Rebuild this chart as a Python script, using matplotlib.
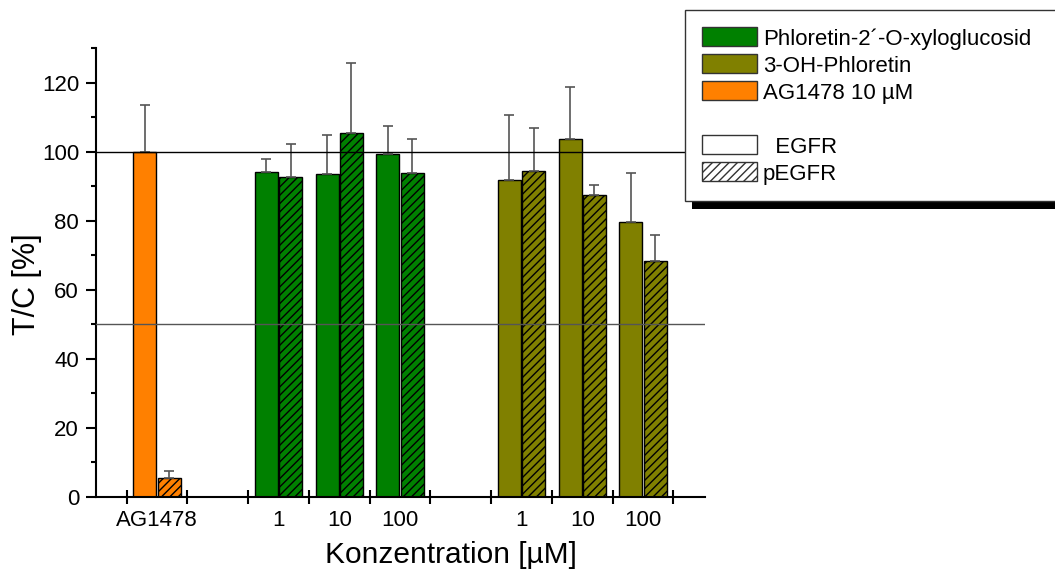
import numpy as np
import matplotlib
matplotlib.use("Agg")
import matplotlib.pyplot as plt
from matplotlib.patches import Rectangle
from matplotlib.ticker import MultipleLocator, FixedLocator

#------------------------------------------------------------------------------#
# Data                                                      #
#------------------------------------------------------------------------------#
categories = ['AG1478', '1', '10', '100', '1', '10', '100']
egfr       = [100.0, 94.2, 93.5, 99.4, 91.9, 103.7, 79.6]
egfr_err   = [13.6, 3.6, 11.4, 8.0, 18.6, 14.9, 14.2]
pegfr      = [5.5, 92.6, 105.3, 93.9, 94.4, 87.3, 68.3]
pegfr_err  = [2.0, 9.5, 20.4, 9.7, 12.4, 3.0, 7.7]

legend_labels = ['Phloretin-2\u00b4-O-xyloglucosid', '3-OH-Phloretin',
                 'AG1478 10 \u00b5M', '  EGFR', 'pEGFR']

#------------------------------------------------------------------------------#
# Style                                                                        #
#------------------------------------------------------------------------------#
GREEN = '#008000'
OLIVE = '#808000'
ORANGE = '#ff8000'
bar_colors = [ORANGE, GREEN, GREEN, GREEN, OLIVE, OLIVE, OLIVE]
positions = np.array([0.5, 2.5, 3.5, 4.5, 6.5, 7.5, 8.5])
width = 0.38
offset = 0.2

plt.rcParams['font.family'] = ['Liberation Sans', 'DejaVu Sans']
plt.rcParams['hatch.linewidth'] = 1.0

W, H = 1055, 570
fig = plt.figure(figsize=(W / 100, H / 100), dpi=100)
ax = fig.add_axes([96 / W, (H - 497) / H, (705 - 96) / W, (497 - 48) / H])

#------------------------------------------------------------------------------#
# Bars and error bars                                                          #
#------------------------------------------------------------------------------#
ax.bar(positions - offset, egfr, width, color=bar_colors,
       edgecolor='black', linewidth=1, zorder=2)
ax.bar(positions + offset, pegfr, width, color=bar_colors,
       edgecolor='black', linewidth=1, hatch='////', zorder=2)

zeros = np.zeros(len(egfr))
ax.errorbar(positions - offset, egfr, yerr=[zeros, egfr_err], fmt='none',
            ecolor='#555555', elinewidth=1.2, capsize=3.6, capthick=1.2, zorder=3)
ax.errorbar(positions + offset, pegfr, yerr=[zeros, pegfr_err], fmt='none',
            ecolor='#555555', elinewidth=1.2, capsize=3.6, capthick=1.2, zorder=3)

# reference lines
ax.axhline(100, color='black', linewidth=1, zorder=4)
ax.axhline(50, color='#555555', linewidth=1, zorder=4)

#------------------------------------------------------------------------------#
# Axes                                                                         #
#------------------------------------------------------------------------------#
ax.set_xlim(-0.505, 9.52)
ax.set_ylim(0, 130)

for side in ['top', 'right']:
    ax.spines[side].set_visible(False)
for side in ['left', 'bottom']:
    ax.spines[side].set_linewidth(1.5)

ax.yaxis.set_major_locator(FixedLocator(np.arange(0, 121, 20)))
ax.yaxis.set_minor_locator(FixedLocator(np.arange(10, 131, 20)))
ax.tick_params(axis='y', which='major', direction='out', length=7.2, width=1.5,
               labelsize=16, pad=5)
ax.tick_params(axis='y', which='minor', direction='out', length=3.6, width=1.5)

ax.xaxis.set_major_locator(FixedLocator(np.arange(0, 10)))
ax.xaxis.set_major_formatter(plt.NullFormatter())
ax.xaxis.set_minor_locator(FixedLocator(positions))
ax.set_xticklabels(categories, minor=True)
ax.tick_params(axis='x', which='major', direction='inout', length=10, width=1.5)
ax.tick_params(axis='x', which='minor', length=0, labelsize=16, pad=9)

ax.set_ylabel('T/C [%]', fontsize=22, va='center')
ax.yaxis.set_label_coords((27 - 96) / 609, (497 - 284) / 449)
ax.set_xlabel('Konzentration [\u00b5M]', fontsize=21.5, va='center')
ax.xaxis.set_label_coords((451 - 96) / 609, (497 - 555) / 449)

#------------------------------------------------------------------------------#
# Legend box with heavy drop shadow (drawn in figure pixels)                   #
#------------------------------------------------------------------------------#
def fx(x):
    return x / W

def fy(y):
    return (H - y) / H

fig.add_artist(Rectangle((fx(692), fy(209)), fx(1100) - fx(692), fy(17) - fy(209),
                         transform=fig.transFigure, facecolor='black',
                         edgecolor='none', zorder=5))
fig.add_artist(Rectangle((fx(685), fy(201)), fx(1100) - fx(685), fy(10) - fy(201),
                         transform=fig.transFigure, facecolor='white',
                         edgecolor='#333333', linewidth=1, zorder=6))

handle_fills = [GREEN, OLIVE, ORANGE, 'white', 'white']
handle_hatch = [None, None, None, None, '////']
rows = [0, 1, 2, 4, 5]
for label, fill, hatch, r in zip(legend_labels, handle_fills, handle_hatch, rows):
    top = 27 + 27 * r
    fig.add_artist(Rectangle((fx(702), fy(top + 19)), fx(757) - fx(702),
                             fy(top) - fy(top + 19), transform=fig.transFigure,
                             facecolor=fill, edgecolor='#333333', linewidth=1,
                             hatch=hatch, zorder=7))
    fig.text(fx(763), fy(top + 18), label, fontsize=16, ha='left',
             va='baseline', zorder=7)

fig.savefig('out.png', dpi=100)
